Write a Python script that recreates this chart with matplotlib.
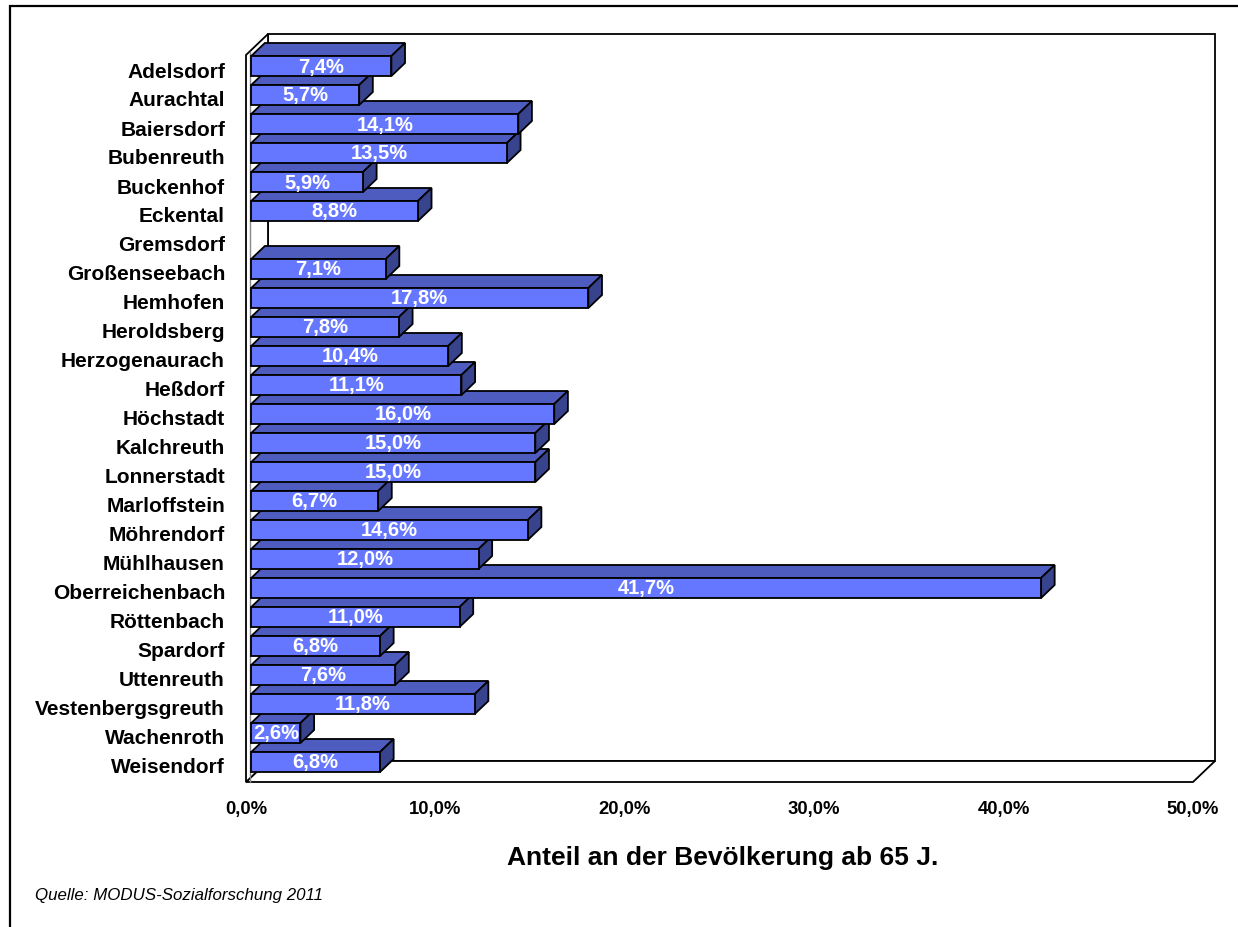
import matplotlib.pyplot as plt
from matplotlib.patches import Polygon, Rectangle

plt.rcParams['font.family'] = ['Liberation Sans', 'DejaVu Sans']

# data
orte = ["Adelsdorf", "Aurachtal", "Baiersdorf", "Bubenreuth", "Buckenhof", "Eckental",
        "Gremsdorf", "Großenseebach", "Hemhofen", "Heroldsberg", "Herzogenaurach",
        "Heßdorf", "Höchstadt", "Kalchreuth", "Lonnerstadt", "Marloffstein",
        "Möhrendorf", "Mühlhausen", "Oberreichenbach", "Röttenbach", "Spardorf",
        "Uttenreuth", "Vestenbergsgreuth", "Wachenroth", "Weisendorf"]
anteil = [7.4, 5.7, 14.1, 13.5, 5.9, 8.8, None, 7.1, 17.8, 7.8, 10.4, 11.1, 16.0,
          15.0, 15.0, 6.7, 14.6, 12.0, 41.7, 11.0, 6.8, 7.6, 11.8, 2.6, 6.8]
xticks = [0, 10, 20, 30, 40, 50]
xticklabels = ["0,0%", "10,0%", "20,0%", "30,0%", "40,0%", "50,0%"]

W, H = 1238, 928
fig = plt.figure(figsize=(W / 100, H / 100), dpi=100)
fig.patch.set_facecolor("white")

# front plane of the 3d box (pixels)
left, right, top, bottom = 246, 1193, 56, 783
ax = fig.add_axes([left / W, 1 - bottom / H, (right - left) / W, (bottom - top) / H])
ax.set_xlim(0, 50)
ax.set_ylim((bottom - 72) / 29, (top - 72) / 29)
ax.axis("off")
ax.patch.set_visible(False)

# pixel -> data units
ppx = (right - left) / 50.0
ppy = 29.0


def P(x, y, d):
    # point in data coords pushed back by depth d (pixels)
    return (x + d * 22 / 21 / ppx, y - d / ppy)


ymin, ymax = ax.get_ylim()[1], ax.get_ylim()[0]  # top, bottom in data
D = 21
lw = 1.3

# back wall
ax.add_patch(Polygon([P(0, ymin, D), P(50, ymin, D), P(50, ymax, D), P(0, ymax, D)],
                     closed=True, fc="white", ec="black", lw=lw, clip_on=False, zorder=1))
# floor
ax.add_patch(Polygon([P(0, ymax, 0), P(50, ymax, 0), P(50, ymax, D), P(0, ymax, D)],
                     closed=True, fc="white", ec="black", lw=lw, clip_on=False, zorder=1))
# left wall
ax.add_patch(Polygon([P(0, ymin, 0), P(0, ymax, 0), P(0, ymax, D), P(0, ymin, D)],
                     closed=True, fc="white", ec="black", lw=lw, clip_on=False, zorder=1))
ax.plot(*zip(P(3.5 / ppx, ymin - 3.5 / ppy, 0), P(3.5 / ppx, ymax, 0)), color="#888888", lw=1.0,
        clip_on=False, zorder=2)

front_c = "#6677FF"
top_c = "#4E5CC0"
side_c = "#38438D"
d0, d1 = 5, 18
h = 0.69

for i in range(len(orte) - 1, -1, -1):
    v = anteil[i]
    if v is None:
        continue
    z = 10 + (len(orte) - i) * 3
    y0, y1 = i - h / 2, i + h / 2
    front = [P(0, y0, d0), P(v, y0, d0), P(v, y1, d0), P(0, y1, d0)]
    topf = [P(0, y0, d0), P(v, y0, d0), P(v, y0, d1), P(0, y0, d1)]
    side = [P(v, y0, d0), P(v, y1, d0), P(v, y1, d1), P(v, y0, d1)]
    ax.add_patch(Polygon(topf, closed=True, fc=top_c, ec="black", lw=lw, clip_on=False, zorder=z))
    ax.add_patch(Polygon(side, closed=True, fc=side_c, ec="black", lw=lw, clip_on=False, zorder=z))
    ax.add_patch(Polygon(front, closed=True, fc=front_c, ec="black", lw=lw, clip_on=False, zorder=z + 1))
    cx, cy = P(v / 2, i, d0)
    ax.text(cx, cy, f"{v:.1f}%".replace(".", ","), color="white", fontsize=14.5,
            fontweight="bold", ha="center", va="center", zorder=z + 2)

# category labels
for i, name in enumerate(orte):
    ax.text(-21 / ppx, i, name, ha="right", va="center", fontsize=15, fontweight="bold")

# x tick labels
for t, lab in zip(xticks, xticklabels):
    ax.text(t, ymax + 27 / ppy, lab, ha="center", va="center", fontsize=13.3, fontweight="bold")

fig.text(723 / W, 1 - 858 / H, "Anteil an der Bevölkerung ab 65 J.", ha="center", va="center",
         fontsize=19, fontweight="bold")
fig.text(35 / W, 1 - 896 / H, "Quelle: MODUS-Sozialforschung 2011", ha="left", va="center",
         fontsize=12.2, style="italic")

# outer frame
fig.add_artist(Rectangle((10 / W, -0.05), 1.1, 1 - 7 / H + 0.05, transform=fig.transFigure,
                         fill=False, ec="black", lw=1.6))

fig.savefig("out.png", dpi=100)
